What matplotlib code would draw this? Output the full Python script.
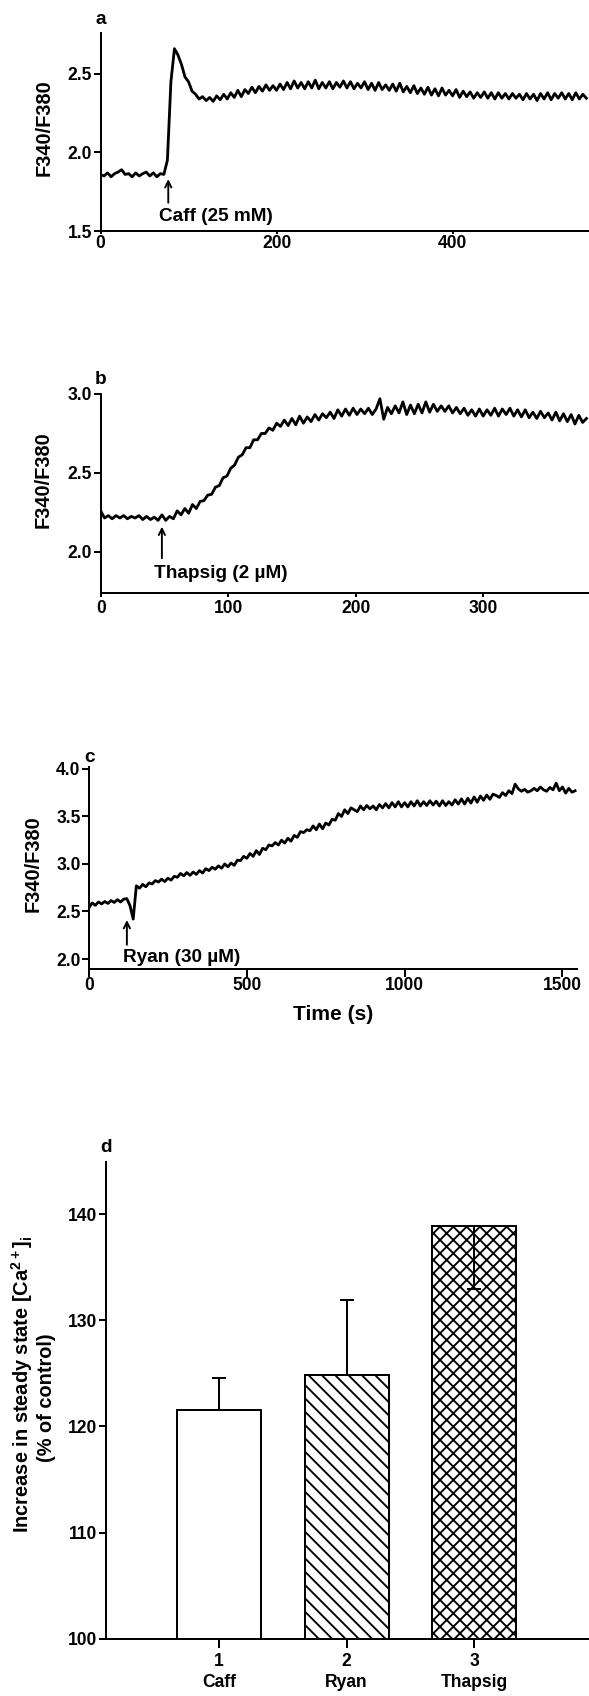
"""
Recreate fura-2 ratio traces (a-c) and steady-state bar chart (d).
"""

import numpy as np
import matplotlib
matplotlib.use("Agg")
import matplotlib.pyplot as plt

# ---- data -------------------------------------------------------------
# panel a: caffeine, one sample every 4 s
caff_step = 4
caff_ratio = [
    1.86, 1.85, 1.87, 1.845, 1.865, 1.875, 1.89, 1.86, 1.865, 1.845,
    1.87, 1.85, 1.865, 1.875, 1.85, 1.87, 1.845, 1.865, 1.86, 1.95,
    2.45, 2.66, 2.62, 2.56, 2.48, 2.45, 2.39, 2.37, 2.34, 2.355,
    2.33, 2.35, 2.325, 2.36, 2.335, 2.37, 2.34, 2.38, 2.35, 2.395,
    2.355, 2.40, 2.375, 2.415, 2.38, 2.42, 2.39, 2.43, 2.395, 2.425,
    2.395, 2.435, 2.40, 2.445, 2.405, 2.455, 2.41, 2.445, 2.405, 2.45,
    2.41, 2.46, 2.405, 2.445, 2.41, 2.45, 2.405, 2.445, 2.415, 2.455,
    2.41, 2.45, 2.405, 2.44, 2.41, 2.45, 2.40, 2.44, 2.395, 2.445,
    2.40, 2.43, 2.395, 2.435, 2.39, 2.44, 2.385, 2.42, 2.38, 2.425,
    2.375, 2.41, 2.37, 2.415, 2.365, 2.405, 2.36, 2.41, 2.365, 2.395,
    2.36, 2.40, 2.35, 2.39, 2.355, 2.385, 2.345, 2.38, 2.35, 2.385,
    2.345, 2.38, 2.34, 2.38, 2.345, 2.375, 2.34, 2.375, 2.345, 2.37,
    2.335, 2.375, 2.34, 2.37, 2.33, 2.375, 2.34, 2.38, 2.335, 2.375,
    2.345, 2.38, 2.34, 2.375, 2.335, 2.38, 2.34, 2.37, 2.345,
]

# panel b: thapsigargin, one sample every 3 s
thap_step = 3
thap_ratio = [
    2.26, 2.215, 2.23, 2.21, 2.23, 2.215, 2.23, 2.21, 2.225, 2.215,
    2.23, 2.205, 2.225, 2.205, 2.22, 2.20, 2.235, 2.20, 2.225, 2.21,
    2.26, 2.235, 2.275, 2.245, 2.30, 2.275, 2.32, 2.325, 2.36, 2.365,
    2.41, 2.42, 2.47, 2.48, 2.53, 2.55, 2.60, 2.615, 2.66, 2.66,
    2.71, 2.71, 2.75, 2.75, 2.785, 2.77, 2.815, 2.795, 2.835, 2.80,
    2.845, 2.805, 2.86, 2.815, 2.855, 2.825, 2.87, 2.835, 2.875, 2.85,
    2.885, 2.845, 2.90, 2.86, 2.905, 2.865, 2.91, 2.87, 2.905, 2.875,
    2.91, 2.87, 2.905, 2.97, 2.84, 2.915, 2.875, 2.925, 2.88, 2.95,
    2.87, 2.93, 2.875, 2.935, 2.88, 2.95, 2.885, 2.935, 2.89, 2.925,
    2.89, 2.925, 2.88, 2.915, 2.875, 2.91, 2.865, 2.90, 2.86, 2.905,
    2.86, 2.90, 2.865, 2.91, 2.86, 2.905, 2.87, 2.91, 2.86, 2.90,
    2.855, 2.90, 2.85, 2.885, 2.845, 2.89, 2.85, 2.88, 2.835, 2.885,
    2.83, 2.875, 2.825, 2.87, 2.81, 2.865, 2.82, 2.845,
]

# panel c: ryanodine, one sample every 10 s
ryan_step = 10
ryan_ratio = [
    2.54, 2.59, 2.565, 2.60, 2.58, 2.605, 2.585, 2.615, 2.595, 2.625,
    2.60, 2.63, 2.635, 2.56, 2.42, 2.77, 2.745, 2.785, 2.76, 2.80,
    2.79, 2.825, 2.81, 2.84, 2.815, 2.85, 2.83, 2.87, 2.86, 2.90,
    2.875, 2.91, 2.88, 2.915, 2.89, 2.93, 2.905, 2.95, 2.93, 2.965,
    2.945, 2.98, 2.955, 3.00, 2.97, 3.01, 2.985, 3.04, 3.035, 3.08,
    3.06, 3.11, 3.08, 3.14, 3.10, 3.165, 3.15, 3.20, 3.19, 3.225,
    3.20, 3.25, 3.22, 3.27, 3.24, 3.30, 3.28, 3.34, 3.33, 3.36,
    3.35, 3.40, 3.36, 3.42, 3.37, 3.43, 3.41, 3.47, 3.46, 3.53,
    3.50, 3.57, 3.53, 3.59, 3.57, 3.55, 3.61, 3.57, 3.615, 3.58,
    3.61, 3.57, 3.625, 3.59, 3.635, 3.59, 3.645, 3.60, 3.655, 3.60,
    3.645, 3.60, 3.655, 3.61, 3.665, 3.61, 3.655, 3.615, 3.665, 3.62,
    3.66, 3.61, 3.665, 3.615, 3.655, 3.62, 3.675, 3.63, 3.685, 3.63,
    3.69, 3.64, 3.705, 3.65, 3.715, 3.67, 3.725, 3.68, 3.735, 3.72,
    3.70, 3.75, 3.72, 3.77, 3.74, 3.84, 3.79, 3.765, 3.785, 3.755,
    3.77, 3.795, 3.77, 3.81, 3.78, 3.765, 3.805, 3.78, 3.85, 3.77,
    3.81, 3.745, 3.795, 3.755, 3.77,
]

# panel d: steady-state increase (% of control)
groups = [1, 2, 3]
group_names = ["Caff", "Ryan", "Thapsig"]
steady_mean = [121.5, 124.8, 138.9]
err_up = [3.1, 7.1, 0.0]
err_down = [0.0, 0.0, 6.0]
hatches = ["", "\\\\", "xx"]

# ---- figure setup -----------------------------------------------------
DPI = 80
W, H = 589, 1696
PT = 72 / DPI  # points per pixel

plt.rcParams["font.family"] = ["Liberation Sans", "DejaVu Sans"]
plt.rcParams["font.weight"] = "bold"
plt.rcParams["axes.labelweight"] = "bold"
plt.rcParams["mathtext.fontset"] = "custom"
plt.rcParams["mathtext.bf"] = "Liberation Sans:bold"
plt.rcParams["mathtext.rm"] = "Liberation Sans:bold"
plt.rcParams["mathtext.default"] = "bf"
plt.rcParams["hatch.linewidth"] = 1.7
plt.rcParams["hatch.color"] = "black"

TICK_FS = 17.5 * PT
LABEL_FS = 20 * PT
NOTE_FS = 19 * PT
LW = 2.0 * PT
TRACE_LW = 2.8 * PT

fig = plt.figure(figsize=(W / DPI, H / DPI), dpi=DPI)


def add_panel(left, right, top, bottom):
    return fig.add_axes([left / W, 1 - bottom / H, (right - left) / W, (bottom - top) / H])


def style(ax, xlen, xpad):
    for s in ["top", "right"]:
        ax.spines[s].set_visible(False)
    for s in ["left", "bottom"]:
        ax.spines[s].set_linewidth(LW)
    ax.tick_params(axis="y", length=7.5 * PT, width=LW, pad=1 * PT, labelsize=TICK_FS)
    ax.tick_params(axis="x", length=xlen * PT, width=LW, pad=xpad * PT, labelsize=TICK_FS)


def ylab(x, y, text):
    fig.text(x / W, 1 - y / H, text, rotation=90, ha="center", va="center",
             fontsize=LABEL_FS, fontweight="bold")


def arrow(ax, t, v_tail, v_head, text, t_text, v_text):
    ax.annotate("", xy=(t, v_head), xytext=(t, v_tail),
                arrowprops=dict(arrowstyle="->", lw=1.9 * PT, color="black",
                                shrinkA=0, shrinkB=0, mutation_scale=14))
    ax.text(t_text, v_text, text, ha="left", va="center", fontsize=NOTE_FS)


# ---- panel a ----------------------------------------------------------
ax = add_panel(100.5, 589, 33, 231)
t = np.arange(len(caff_ratio)) * caff_step
ax.plot(t, caff_ratio, color="black", lw=TRACE_LW)
ax.set_xlim(0, 555)
ax.set_ylim(1.5, 2.76)
ax.set_yticks([1.5, 2.0, 2.5])
ax.set_yticklabels(["1.5", "2.0", "2.5"])
ax.set_xticks([0, 200, 400])
style(ax, 3, 1)
arrow(ax, 77, 1.68, 1.83, "Caff (25 mM)", 67, 1.59)
ylab(44, 128, "F340/F380")
fig.text(100.5 / W, 1 - 20 / H, "a", ha="center", va="center", fontsize=19 * PT)

# ---- panel b ----------------------------------------------------------
ax = add_panel(100.7, 589, 394, 593)
t = np.arange(len(thap_ratio)) * thap_step
ax.plot(t, thap_ratio, color="black", lw=TRACE_LW)
ax.set_xlim(0, 383)
ax.set_ylim(1.74, 3.0)
ax.set_yticks([2.0, 2.5, 3.0])
ax.set_yticklabels(["2.0", "2.5", "3.0"])
ax.set_xticks([0, 100, 200, 300])
style(ax, 4, 3)
arrow(ax, 48, 1.96, 2.16, "Thapsig (2 \u00b5M)", 42, 1.865)
ylab(43, 480, "F340/F380")
fig.text(100.7 / W, 1 - 380 / H, "b", ha="center", va="center", fontsize=19 * PT)

# ---- panel c ----------------------------------------------------------
ax = add_panel(89, 577, 767, 969)
t = np.arange(len(ryan_ratio)) * ryan_step
ax.plot(t, ryan_ratio, color="black", lw=TRACE_LW)
ax.set_xlim(0, 1546)
ax.set_ylim(1.895, 4.02)
ax.set_yticks([2.0, 2.5, 3.0, 3.5, 4.0])
ax.set_yticklabels(["2.0", "2.5", "3.0", "3.5", "4.0"])
ax.set_xticks([0, 500, 1000, 1500])
ax.set_xlabel("Time (s)", fontsize=21 * PT, fontweight="bold", labelpad=9)
style(ax, 8, 0.5)
arrow(ax, 120, 2.15, 2.41, "Ryan (30 \u00b5M)", 108, 2.02)
ylab(33, 864, "F340/F380")
fig.text(90 / W, 1 - 757 / H, "c", ha="center", va="center", fontsize=19 * PT)

# ---- panel d ----------------------------------------------------------
ax = add_panel(106, 589, 1162, 1638.7)
ax.bar(groups, [m - 100 for m in steady_mean], bottom=100, width=0.66,
       color="white", edgecolor="black", linewidth=LW, hatch=hatches)
ax.errorbar(groups, steady_mean, yerr=[err_down, err_up], fmt="none",
            ecolor="black", elinewidth=LW, capsize=6.3, capthick=LW)
ax.set_xlim(0.114, 3.90)
ax.set_ylim(100, 144.9)
ax.set_yticks([100, 110, 120, 130, 140])
ax.set_xticks(groups)
ax.set_xticklabels([f"{g}\n{n}" for g, n in zip(groups, group_names)],
                   linespacing=1.3)
style(ax, 9, 5)
ylab(22, 1384, r"Increase in steady state [Ca$^{2+}$]$_i$")
ylab(46, 1398, "(% of control)")
fig.text(106 / W, 1 - 1148 / H, "d", ha="center", va="center", fontsize=19 * PT)

fig.savefig("out.png", dpi=DPI)
